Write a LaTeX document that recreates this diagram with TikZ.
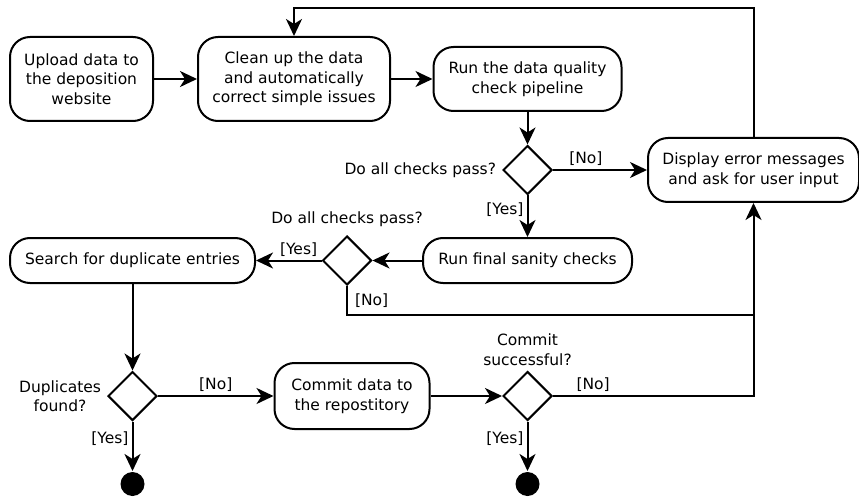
\documentclass[tikz,border=0pt]{standalone}
\usepackage{fontspec}
\setmainfont{DejaVu Sans}
\usetikzlibrary{shapes.geometric,arrows.meta}

\begin{document}
\begin{tikzpicture}[x=1pt, y=-1pt, line width=2pt,
  every node/.style={font=\fontsize{15.5}{19.5}\selectfont},
  act/.style={draw=black, rounded corners=20pt, align=center, inner sep=2pt},
  decision/.style={draw=black, diamond, minimum width=49pt, minimum height=49pt, inner sep=0pt},
  stop/.style={circle, fill=black, minimum size=24pt, inner sep=0pt},
  lbl/.style={draw=none, inner sep=3pt},
  flow/.style={-{Stealth[length=17pt, width=16pt, inset=5pt]}}]
\useasboundingbox (0,0) rectangle (859,497);

\node[act, minimum width=143pt, minimum height=84pt] (upload) at (81.5,79) {Upload data to\\the deposition\\website};
\node[act, minimum width=192pt, minimum height=84pt] (clean) at (294,79) {Clean up the data\\and automatically\\correct simple issues};
\node[act, minimum width=188pt, minimum height=64pt] (check) at (527.5,79) {Run the data quality\\check pipeline};
\node[decision] (pass) at (527.5,170) {};
\node[act, minimum width=211pt, minimum height=64pt] (error) at (753.5,170) {Display error messages\\and ask for user input};
\node[act, minimum width=209pt, minimum height=45pt] (sanity) at (527.5,260.5) {Run final sanity checks};
\node[decision] (final) at (347,260.5) {};
\node[act, minimum width=245pt, minimum height=45pt] (search) at (132.5,260.5) {Search for duplicate entries};
\node[decision] (dupl) at (132.5,396) {};
\node[act, minimum width=155pt, minimum height=66pt] (commit) at (352,396) {Commit data to\\the repostitory};
\node[decision] (ok) at (527.5,396) {};
\node[stop] (end1) at (132.5,484) {};
\node[stop] (end2) at (527.5,484) {};

\node[lbl, left=2pt] at (pass.west) {Do all checks pass?};
\node[lbl, above=4pt] at (final.north) {Do all checks pass?};
\node[lbl, left=2pt, align=center] at (dupl.west) {Duplicates\\found?};
\node[lbl, above=1pt, align=center] at (ok.north) {Commit\\successful?};

\coordinate (top) at (0,8);
\coordinate (low) at (0,315);

\draw[flow] (upload) -- (clean);
\draw[flow] (clean) -- (check);
\draw[flow] (check) -- (pass);
\draw[flow] (pass) -- node[lbl, above, pos=0.35] {[No]} (error);
\draw[flow] (pass) -- node[lbl, left, pos=0.35] {[Yes]} (sanity);
\draw[flow] (error.north) -- (error.north |- top) -| (clean.north);
\draw[flow] (sanity) -- (final);
\draw[flow] (final) -- node[lbl, above, pos=0.35] {[Yes]} (search);
\draw[flow] (final.south) -- node[lbl, right=4pt, pos=0.5] {[No]} (final.south |- low) -| (error.south);
\draw[flow] (search) -- (dupl);
\draw[flow] (dupl) -- node[lbl, above] {[No]} (commit);
\draw[flow] (dupl) -- node[lbl, left, pos=0.35] {[Yes]} (end1);
\draw[flow] (commit) -- (ok);
\draw (ok.east) -- node[lbl, above, pos=0.2] {[No]} (ok.east -| error.south) -- (error.south |- low);
\draw[flow] (ok) -- node[lbl, left, pos=0.35] {[Yes]} (end2);
\end{tikzpicture}
\end{document}
